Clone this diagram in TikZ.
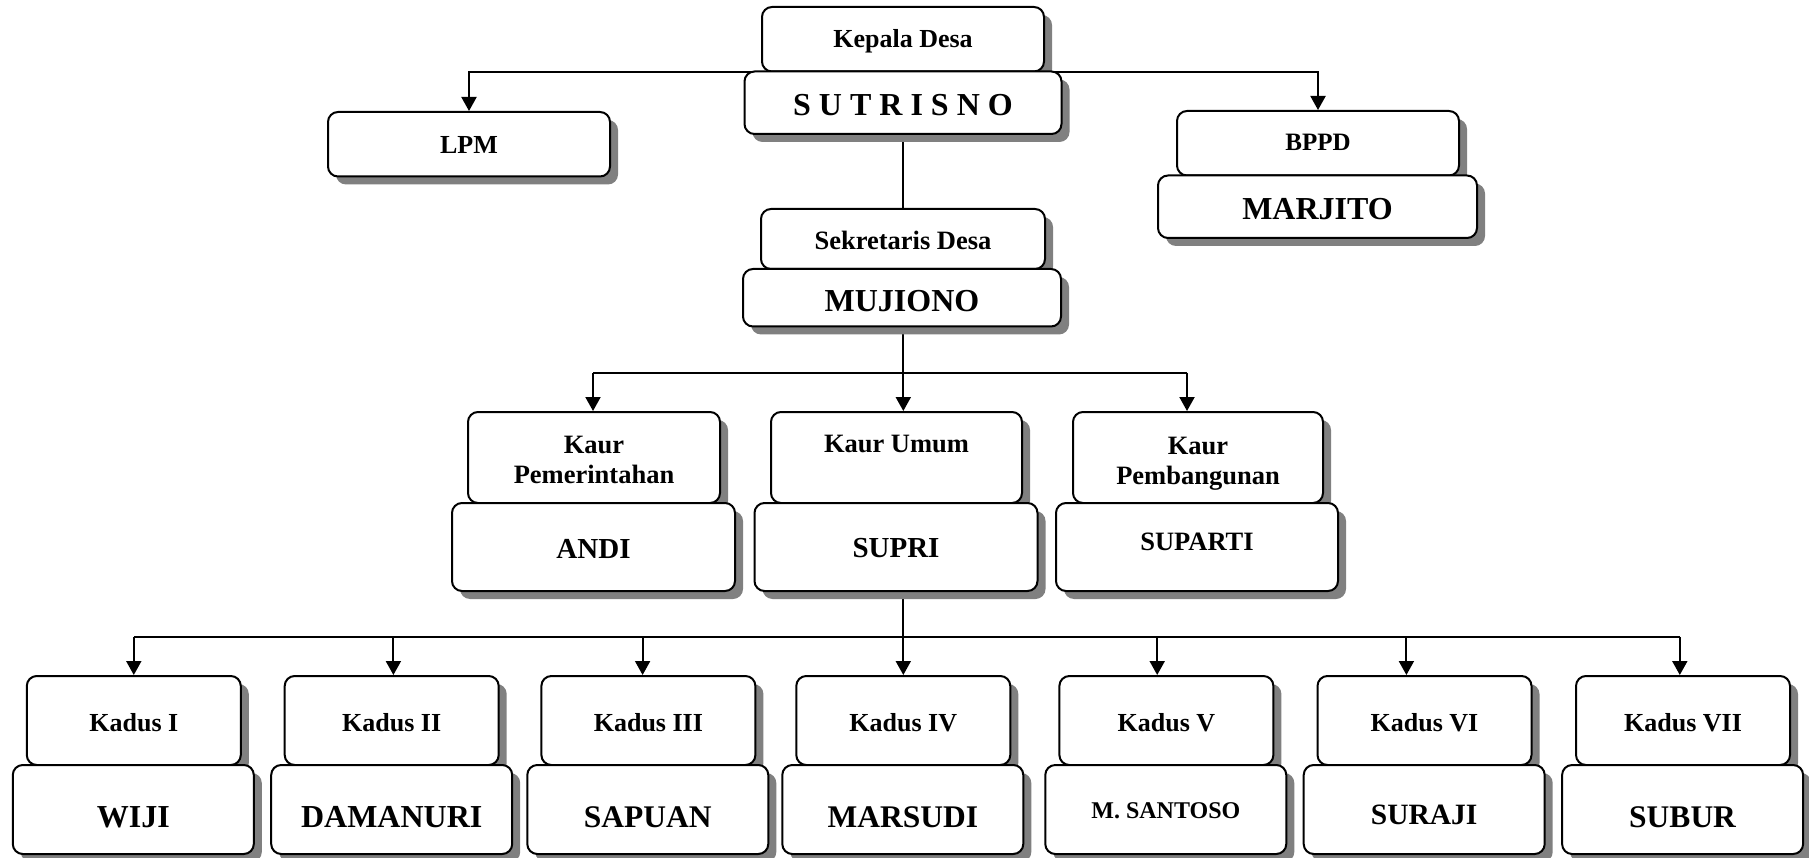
\documentclass[tikz,border=0pt]{standalone}
\usepackage{fontspec}
\setmainfont{Liberation Serif}
\usetikzlibrary{shadows,arrows.meta,backgrounds}
\definecolor{shadowgray}{RGB}{128,128,128}
\tikzset{
  orgbox/.style={draw, line width=2pt, rounded corners=10pt, fill=white, inner sep=0pt,
    drop shadow={shadow xshift=8pt, shadow yshift=-8pt, fill=shadowgray, opacity=1}},
  conn/.style={line width=2pt},
  arr/.style={line width=2pt, -{Triangle[length=14pt,width=15pt]}},
}
% name, center, width, height, text, font size, text yshift
\newcommand\ob[7]{\node[orgbox, minimum width=#3pt, minimum height=#4pt,
  label={[name=#1-t, align=center, yshift=#7pt, font=\bfseries\fontsize{#6}{30}\selectfont]center:{#5}}] (#1) at (#2) {};}
\begin{document}
\begin{tikzpicture}[x=1pt,y=-1pt]
\useasboundingbox (0,0) rectangle (1809,858);
% top
\ob{kepala}{903,39.25}{282}{64.5}{Kepala Desa}{26}{-2.5}
\ob{sutrisno}{903,102.75}{317}{62.5}{S U T R I S N O}{32}{-2}
\ob{lpm}{469,144.25}{282}{64.5}{LPM}{26}{-1}
\ob{bppd}{1318,143.25}{282}{64.5}{BPPD}{25}{1}
\ob{marjito}{1317.5,206.75}{319}{62.5}{MARJITO}{32}{-2}
\ob{sekdes}{903,239}{284}{60}{Sekretaris Desa}{26.5}{-1}
\ob{mujiono}{902,297.75}{318}{57.5}{MUJIONO}{32}{-3.5}
% kaur
\ob{kaurpem}{594,457.5}{252}{91}{Kaur\\Pemerintahan}{26.5}{-2}
\ob{kaurumum}{896.5,457.5}{251}{91}{Kaur Umum}{26.5}{13.5}
\ob{kaurpemb}{1198,457.5}{250}{91}{Kaur\\Pembangunan}{26.5}{-6}
\ob{andi}{593.5,547}{283}{88}{ANDI}{29}{-1.5}
\ob{supri}{896,547}{283}{88}{SUPRI}{29}{-1.5}
\ob{suparti}{1197,547}{282}{88}{SUPARTI}{26.5}{5}
% kadus
\ob{kd1}{133.8,720.5}{214}{89}{Kadus I}{26}{-2.5}
\ob{kd2}{391.7,720.5}{214}{89}{Kadus II}{26}{-2.5}
\ob{kd3}{648.4,720.5}{214}{89}{Kadus III}{26}{-2.5}
\ob{kd4}{903.3,720.5}{214}{89}{Kadus IV}{26}{-2.5}
\ob{kd5}{1166.4,720.5}{214}{89}{Kadus V}{26}{-2.5}
\ob{kd6}{1424.5,720.5}{214}{89}{Kadus VI}{26}{-2.5}
\ob{kd7}{1683,720.5}{214}{89}{Kadus VII}{26}{-2.5}
\ob{n1}{133.3,809.5}{241}{89}{WIJI}{32}{-7.5}
\ob{n2}{391.7,809.5}{241}{89}{DAMANURI}{32}{-7.5}
\ob{n3}{647.8,809.5}{241}{89}{SAPUAN}{31.5}{-7.5}
\ob{n4}{902.8,809.5}{241}{89}{MARSUDI}{31.5}{-7.5}
\ob{n5}{1165.8,809.5}{241}{89}{M. SANTOSO}{24}{-1.5}
\ob{n6}{1424.2,809.5}{241}{89}{SURAJI}{29.5}{-5}
\ob{n7}{1682.6,809.5}{241}{89}{SUBUR}{31.5}{-7.5}
% connectors
\coordinate (ka) at (593,372.6);
\coordinate (kb) at (903.3,372.6);
\coordinate (kc) at (1187,372.6);
\coordinate (d1) at (133.8,636.8);
\coordinate (d2) at (393.4,636.8);
\coordinate (d3) at (642.6,636.8);
\coordinate (d4) at (903.3,636.8);
\coordinate (d5) at (1157.2,636.8);
\coordinate (d6) at (1406.4,636.8);
\coordinate (d7) at (1679.8,636.8);
\begin{scope}[on background layer]
\draw[arr] (kepala.south) -| (lpm.north);
\draw[arr] (kepala.south) -| (bppd.north);
\draw[conn] (sutrisno.south) -- (sutrisno.south |- sekdes.north);
\draw[conn] (mujiono.south -| kb) -- (kb);
\draw[conn] (ka) -- (kc);
\draw[arr] (ka) -- (ka |- kaurpem.north);
\draw[arr] (kb) -- (kb |- kaurumum.north);
\draw[arr] (kc) -- (kc |- kaurpemb.north);
\draw[conn] (supri.south -| d4) -- (d4);
\draw[conn] (d1) -- (d7);
\foreach \i in {1,...,7}{\draw[arr] (d\i) -- (d\i |- kd\i.north);}
\end{scope}
\end{tikzpicture}
\end{document}
